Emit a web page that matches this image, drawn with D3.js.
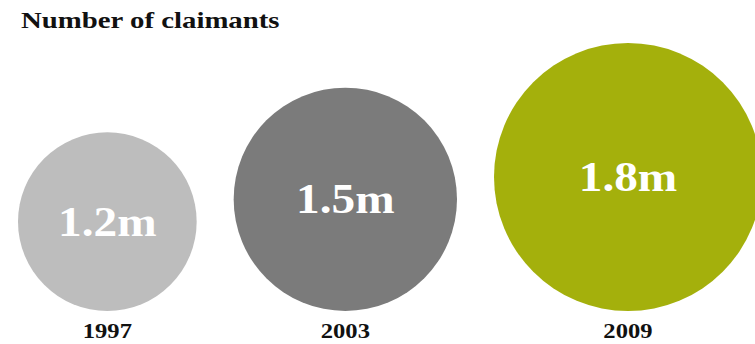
<!DOCTYPE html>
<html>
<head>
<meta charset="utf-8">
<script src="https://cdn.jsdelivr.net/npm/d3@7"></script>
<style>
  body { margin: 0; background: #fff; }
  svg { display: block; }
</style>
</head>
<body>
<div id="chart"></div>
<script>
// Number of claimants, bubble per year
const years = ['1997', '2003', '2009'];
const claimants = [1.2, 1.5, 1.8];   // millions
const valueLabels = ['1.2m', '1.5m', '1.8m'];
const fills = ['#bdbdbd', '#7b7b7b', '#a4b00c'];

const width = 755, height = 344;
const left = 18, gap = 37, baseY = 311;
const font = '"Liberation Serif", "Times New Roman", serif';

const svg = d3.select('#chart').append('svg')
    .attr('width', width)
    .attr('height', height);

// radius proportional to value
const r = d3.scaleLinear().domain([0, d3.max(claimants)]).range([0, 134]);

// lay circles side by side, bottoms aligned
let x = left;
const data = years.map((y, i) => {
    const rad = r(claimants[i]);
    const cx = x + rad;
    x += 2 * rad + gap;
    return { year: y, value: claimants[i], label: valueLabels[i], fill: fills[i], r: rad, cx: cx, cy: baseY - rad };
});

svg.append('text')
    .attr('transform', 'translate(21,28) scale(1.2,1)')
    .attr('font-family', font)
    .attr('font-weight', 'bold')
    .attr('font-size', 24)
    .attr('fill', '#111')
    .text('Number of claimants');

const g = svg.selectAll('g.bubble')
    .data(data)
    .enter()
    .append('g')
    .attr('class', 'bubble');

g.append('circle')
    .attr('cx', d => d.cx)
    .attr('cy', d => d.cy)
    .attr('r', d => d.r)
    .attr('fill', d => d.fill);

g.append('text')
    .attr('transform', d => `translate(${d.cx},${d.cy + 14}) scale(1.1,1)`)
    .attr('text-anchor', 'middle')
    .attr('font-family', font)
    .attr('font-weight', 'bold')
    .attr('font-size', 43)
    .attr('fill', '#fff')
    .text(d => d.label);

g.append('text')
    .attr('transform', d => `translate(${d.cx},338) scale(1.12,1)`)
    .attr('text-anchor', 'middle')
    .attr('font-family', font)
    .attr('font-weight', 'bold')
    .attr('font-size', 22)
    .attr('fill', '#111')
    .text(d => d.year);
</script>
</body>
</html>
